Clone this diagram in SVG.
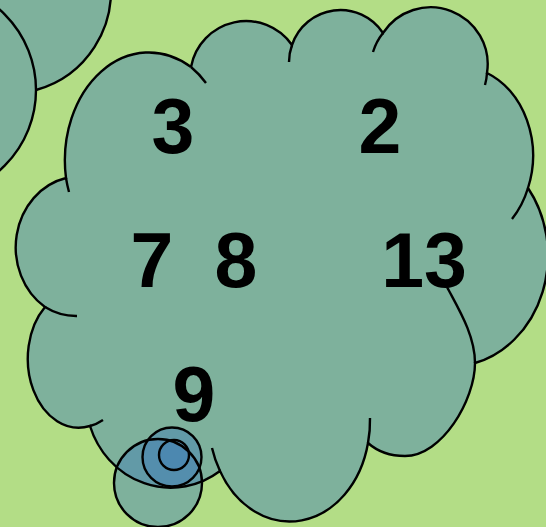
<svg xmlns="http://www.w3.org/2000/svg" width="546" height="527" viewBox="0 0 546 527">
<defs>
<style>
.bg{fill:#b3dd86}
.fill{fill:#4682b4;fill-opacity:0.48;stroke:none}
.line{fill:none;stroke:#000;stroke-width:2.4}
.lbl{font-family:"Liberation Sans",Arial,sans-serif;font-size:77px;font-weight:bold;fill:#000;text-anchor:middle}
</style>
</defs>
<rect class="bg" x="0" y="0" width="546" height="527"/>
<g id="set-top-left">
<path class="fill" d="M36,90 A102,102 0 1 0 -93,-15 A107,107 0 1 0 36,90 Z"/>
</g>
<g id="set-main">
<path class="fill" d="M191,67 A56,56 0 0 1 292,45 A51,51 0 0 1 383,33 A57,57 0 0 1 487,73 A73,89 0 0 1 528,188 A97,111 0 0 1 475,363 C475,400 442,456 405,456 C390,456 377,451 368,443 A80,99 0 0 1 220,471 A85,90 0 0 1 90,426 A51,69 0 0 1 45,307 A64,71 0 0 1 66,178 A84,108 0 0 1 191,67 Z"/>
</g>
<g id="set-c1"><circle class="fill" cx="158" cy="483" r="44"/></g>
<g id="set-c2"><circle class="fill" cx="172" cy="457" r="29.5"/></g>
<g id="set-c4"><circle class="fill" cx="174" cy="455" r="15"/></g>
<g id="outlines">
<circle class="line" cx="-71" cy="90" r="107"/>
<path class="line" d="M36,90 A102,102 0 1 0 -93,-15"/>
<path class="line" d="M191,67 A56,56 0 0 1 292,45 A51,51 0 0 1 383,33 A57,57 0 0 1 487,73 A73,89 0 0 1 528,188 A97,111 0 0 1 475,363 C475,400 442,456 405,456 C390,456 377,451 368,443 A80,99 0 0 1 220,471 A85,90 0 0 1 90,426 A51,69 0 0 1 45,307 A64,71 0 0 1 66,178 A84,108 0 0 1 191,67"/>
<path class="line" d="M191,67 A84,108 0 0 1 206,83"/>
<path class="line" d="M289,62 A51,51 0 0 1 292,45"/>
<path class="line" d="M373,52 A57,57 0 0 1 383,33"/>
<path class="line" d="M487,73 A57,57 0 0 1 485,85"/>
<path class="line" d="M528,188 A73,89 0 0 1 512,219"/>
<path class="line" d="M447,287 C458,308 475,335 475,363"/>
<path class="line" d="M370,418 A80,99 0 0 1 368,443"/>
<path class="line" d="M220,471 A80,99 0 0 1 212,448"/>
<path class="line" d="M103,420 A51,69 0 0 1 90,426"/>
<path class="line" d="M77,316 A64,71 0 0 1 45,307"/>
<path class="line" d="M69,192 A84,108 0 0 1 66,178"/>
<circle class="line" cx="158" cy="483" r="44"/>
<circle class="line" cx="172" cy="457" r="29.5"/>
<circle class="line" cx="174" cy="455" r="15"/>
</g>
<g id="connectors"/>
<g id="labels">
<text class="lbl" x="173" y="153">3</text>
<text class="lbl" x="380" y="153">2</text>
<text class="lbl" x="152" y="287">7</text>
<text class="lbl" x="236" y="287">8</text>
<text class="lbl" x="424" y="287">13</text>
<text class="lbl" x="194" y="421">9</text>
</g>
</svg>
